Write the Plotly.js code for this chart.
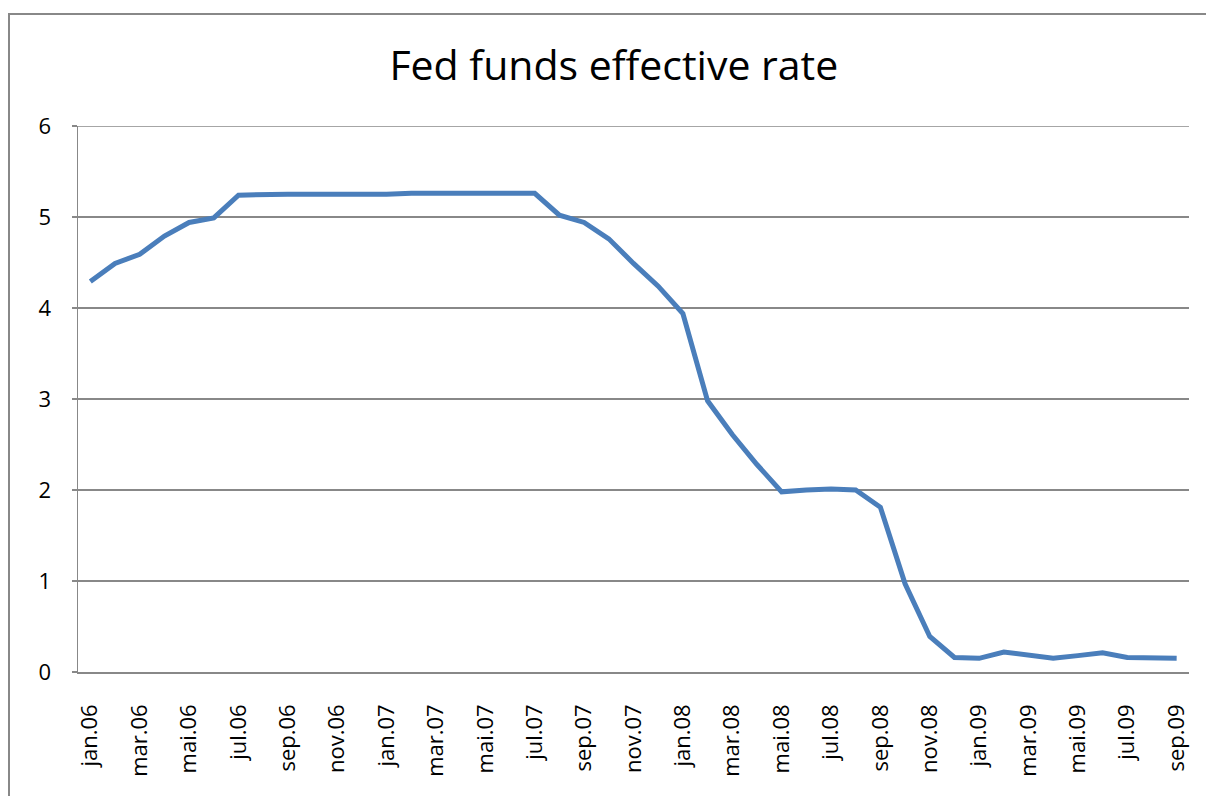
<!DOCTYPE html>
<html>
<head>
<meta charset="utf-8">
<script src="https://cdn.plot.ly/plotly-3.0.1.min.js"></script>
<style>html,body{margin:0;padding:0;background:#fff;}#chart{width:1206px;height:796px;}</style>
</head>
<body>
<div id="chart"></div>
<script>
const months = ["jan","feb","mar","apr","mai","jun","jul","aug","sep","okt","nov","des"];
const years = ["06","07","08","09"];
const categories = [];
for (const y of years) for (const m of months) categories.push(m + "." + y);
categories.length = 45; // jan.06 .. sep.09

const rates = [
  4.29, 4.49, 4.59, 4.79, 4.94, 4.99, 5.24, 5.25, 5.25, 5.25, 5.25, 5.24,
  5.25, 5.26, 5.26, 5.25, 5.25, 5.25, 5.26, 5.02, 4.94, 4.76, 4.49, 4.24,
  3.94, 2.98, 2.61, 2.28, 1.98, 2.00, 2.01, 2.00, 1.81, 0.97, 0.39, 0.16,
  0.15, 0.22, 0.18, 0.15, 0.18, 0.21, 0.16, 0.16, 0.15
];

const tickLabels = categories.filter((c, i) => i % 2 === 0);

const W = 1206, H = 796;
const m = {l: 78, r: 17, t: 126, b: 124};
const pw = W - m.l - m.r, ph = H - m.t - m.b;
const px = v => (v - m.l) / pw;
const py = v => 1 - (v - m.t) / ph;

const trace = {
  x: categories, y: rates, type: 'scatter', mode: 'lines',
  line: {color: '#4a7ebb', width: 5}, hoverinfo: 'x+y'
};

const layout = {
  width: W, height: H, margin: m,
  paper_bgcolor: '#fff', plot_bgcolor: '#fff',
  font: {family: 'Open Sans, sans-serif', color: '#000'},
  showlegend: false,
  title: {text: 'Fed funds effective rate', font: {size: 41, color: '#000', family: 'Open Sans, sans-serif'},
          x: 0.509, xanchor: 'center', y: 1 - 66 / H, yanchor: 'middle'},
  xaxis: {
    type: 'category', categoryorder: 'array', categoryarray: categories,
    range: [-0.5, categories.length - 0.5],
    tickmode: 'array', tickvals: tickLabels, ticktext: tickLabels,
    tickangle: -90, tickfont: {size: 22, color: '#000'},
    showgrid: false, showline: true, linecolor: '#888', linewidth: 1.5,
    ticks: '', ticklabelstandoff: 22, zeroline: false, fixedrange: true
  },
  yaxis: {
    range: [0, 6], tickmode: 'linear', tick0: 0, dtick: 1,
    tickfont: {size: 22, color: '#000'},
    showgrid: true, gridcolor: '#888', gridwidth: 1.5,
    showline: true, linecolor: '#888', linewidth: 1.5,
    ticks: 'outside', ticklen: 5, tickcolor: '#888', tickwidth: 1.5,
    ticklabelstandoff: 16, zeroline: false, fixedrange: true
  },
  shapes: [
    {
      type: 'line', xref: 'paper', yref: 'y', x0: 0, x1: 1, y0: 6, y1: 6,
      line: {color: '#888', width: 1.5}, layer: 'below'
    },
    {
      type: 'rect', xref: 'paper', yref: 'paper',
      x0: px(9), x1: px(1230), y0: py(830), y1: py(14),
      line: {color: '#888', width: 2}, fillcolor: 'rgba(0,0,0,0)', layer: 'below'
    }
  ]
};

Plotly.newPlot('chart', [trace], layout, {displayModeBar: false, staticPlot: true});
</script>
</body>
</html>
